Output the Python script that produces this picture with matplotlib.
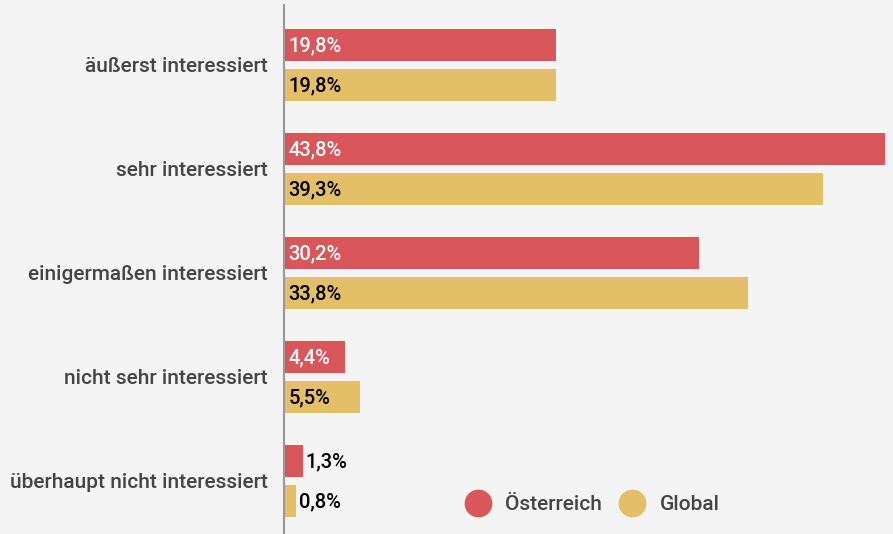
import matplotlib
matplotlib.use("Agg")
import matplotlib.pyplot as plt
from matplotlib.lines import Line2D

categories = ["äußerst interessiert", "sehr interessiert", "einigermaßen interessiert",
              "nicht sehr interessiert", "überhaupt nicht interessiert"]
oesterreich = [19.8, 43.8, 30.2, 4.4, 1.3]
global_vals = [19.8, 39.3, 33.8, 5.5, 0.8]
series_names = ["Österreich", "Global"]

RED = "#d9575b"
GOLD = "#e3bf68"
BG = "#f4f4f4"

W, H = 893, 534
fig = plt.figure(figsize=(W / 100, H / 100), dpi=100, facecolor=BG)
ax = fig.add_axes([285 / W, 0, (885 - 285) / W, (534 - 5) / H], facecolor=BG)

def fmt(v):
    return f"{v:.1f}%".replace(".", ",")

off = 20 / 104
bh = 32 / 104
n = len(categories)
ys = list(range(n))
ax.barh([y - off for y in ys], oesterreich, height=bh, color=RED, left=0)
ax.barh([y + off for y in ys], global_vals, height=bh, color=GOLD, left=0)

ax.set_xlim(0, 43.8)
ax.set_ylim((534 - 65) / 104, -60 / 104)

fs_val = 14.5
font = dict(family="Roboto", weight=500)

def label(x, y, v, color):
    ax.annotate(fmt(v), xy=(x, y), xytext=(0, -1), textcoords="offset pixels",
                va="center", ha="left", color=color, fontsize=fs_val, **font)

for y, v in zip(ys, oesterreich):
    if v > 3:
        label(0.25, y - off, v, "white")
    else:
        label(v + 0.2, y - off, v, "black")
for y, v in zip(ys, global_vals):
    if v > 3:
        label(0.25, y + off, v, "black")
    else:
        label(v + 0.2, y + off, v, "black")

ax.set_yticks(ys)
ax.set_yticklabels([])
ax.tick_params(axis="y", length=0)
for y, c in zip(ys, categories):
    ax.annotate(c, xy=(0, y), xytext=(-17, -2), xycoords="data", textcoords="offset pixels",
                ha="right", va="center", fontsize=15, color="#444444", **font)
ax.set_xticks([])
for s in ["top", "right", "bottom"]:
    ax.spines[s].set_visible(False)
ax.spines["left"].set_color("#999999")
ax.spines["left"].set_linewidth(1.5)
ax.spines["left"].set_position(("outward", 1))

handles = [Line2D([], [], marker="o", linestyle="", markersize=19, color=c)
           for c in (RED, GOLD)]
leg = fig.legend(handles, series_names, loc="center left", bbox_to_anchor=(447 / W, 1 - 505 / H),
                 frameon=False, ncol=2, prop={"family": "Roboto", "weight": 500, "size": 15},
                 handlelength=1.2, handletextpad=0.7, columnspacing=0.85)
for t in leg.get_texts():
    t.set_color("#444444")

fig.savefig("out.png", dpi=100, facecolor=BG)
